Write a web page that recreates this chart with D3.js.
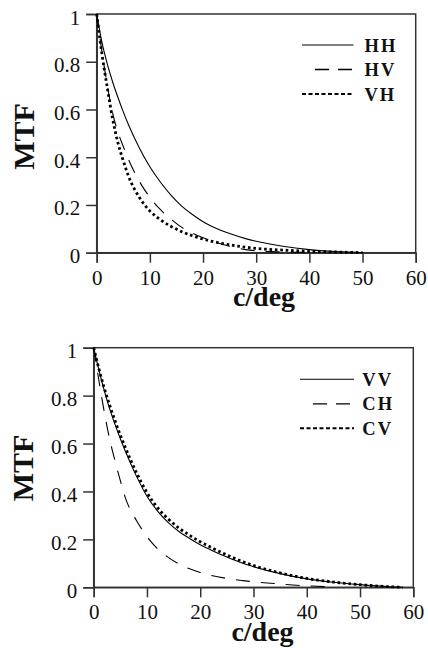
<!DOCTYPE html>
<html>
<head>
<meta charset="utf-8">
<script src="https://cdn.jsdelivr.net/npm/d3@7"></script>
<style>
  body { margin: 0; background: #fff; }
  svg { display: block; }
  text { font-family: "Liberation Serif", "Times New Roman", serif; fill: #111; }
</style>
</head>
<body>
<svg id="chart" width="428" height="648"></svg>
<script>
// spatial frequency (c/deg)
var cpdTop = [0, 1, 2, 3, 4, 5, 6, 8, 10, 12, 14, 16, 18, 20, 22, 25, 28, 30, 35, 40, 45, 50];
var hh = [1, 0.88, 0.79, 0.715, 0.65, 0.59, 0.535, 0.44, 0.36, 0.295, 0.24, 0.195, 0.16, 0.13, 0.107, 0.08, 0.059, 0.048, 0.027, 0.013, 0.005, 0];
var hv = [1, 0.84, 0.70, 0.585, 0.505, 0.445, 0.39, 0.30, 0.232, 0.18, 0.14, 0.106, 0.082, 0.063, 0.047, 0.027, 0.013, 0.008, 0.003, 0.001, null, null];
var vh = [1, 0.83, 0.69, 0.56, 0.46, 0.385, 0.32, 0.232, 0.175, 0.138, 0.11, 0.088, 0.071, 0.057, 0.046, 0.033, 0.023, 0.018, 0.011, 0.006, 0.003, 0];

var cpdBottom = [0, 1, 2, 3, 4, 5, 6, 8, 10, 12, 14, 16, 18, 20, 22, 25, 28, 30, 35, 40, 45, 50, 55, 58];
var vv = [1, 0.905, 0.82, 0.745, 0.68, 0.62, 0.565, 0.465, 0.38, 0.318, 0.27, 0.233, 0.204, 0.178, 0.156, 0.126, 0.1, 0.086, 0.057, 0.035, 0.021, 0.011, 0.003, 0];
var ch = [1, 0.86, 0.73, 0.618, 0.528, 0.445, 0.37, 0.28, 0.212, 0.16, 0.125, 0.097, 0.077, 0.062, 0.05, 0.037, 0.028, 0.023, 0.014, 0.006, 0.002, null, null, null];
var cv = [1, 0.91, 0.83, 0.76, 0.695, 0.635, 0.58, 0.48, 0.395, 0.332, 0.285, 0.247, 0.217, 0.19, 0.167, 0.135, 0.107, 0.091, 0.06, 0.037, 0.022, 0.011, 0.003, 0];

var xTicks = [0, 10, 20, 30, 40, 50, 60];
var yTicks = [0, 0.2, 0.4, 0.6, 0.8, 1];

var svg = d3.select('#chart');
var axisColor = '#333';

var styles = {
  solid: { width: 1.1, dash: null, legendDash: null, legendWidth: 1.1 },
  dashed: { width: 1.1, dash: '14,11', legendDash: '14,9', legendWidth: 1.3 },
  dotted: { width: 2.8, dash: '2.6,2.8', legendDash: '4,2.5', legendWidth: 2 }
};

function panel(opts) {
  var x = d3.scaleLinear().domain([0, 60]).range([opts.left, opts.right]);
  var y = d3.scaleLinear().domain([0, 1]).range([opts.bottom, opts.top]);
  var g = svg.append('g');

  // frame
  g.append('rect')
    .attr('x', opts.left).attr('y', opts.top)
    .attr('width', opts.right - opts.left).attr('height', opts.bottom - opts.top)
    .attr('fill', 'none').attr('stroke', axisColor).attr('stroke-width', 1.5);

  var xAxis = g.append('g')
    .attr('transform', 'translate(0,' + opts.bottom + ')')
    .call(d3.axisBottom(x).tickValues(xTicks).tickSize(10).tickPadding(10).tickFormat(d3.format('d')));
  var yAxis = g.append('g')
    .attr('transform', 'translate(' + opts.left + ',0)')
    .call(d3.axisLeft(y).tickValues(yTicks).tickSize(10.5).tickPadding(6).tickFormat(function(d) { return d; }));

  [xAxis, yAxis].forEach(function(a) {
    a.select('.domain').attr('stroke', axisColor).attr('stroke-width', 1.5);
    a.selectAll('.tick line').attr('stroke', axisColor).attr('stroke-width', 1.5);
    a.selectAll('.tick text')
      .attr('font-size', 21).attr('fill', '#111');
  });
  xAxis.selectAll('.tick text').attr('dy', null).attr('y', 32);
  yAxis.selectAll('.tick text').attr('dy', null).attr('y', 10);

  // curves
  opts.series.forEach(function(s) {
    var st = styles[s.style];
    var pts = opts.cpd.map(function(c, i) { return [c, s.values[i]]; });
    var line = d3.line()
      .defined(function(d) { return d[1] != null; })
      .x(function(d) { return x(d[0]); })
      .y(function(d) { return y(d[1]); })
      .curve(d3.curveMonotoneX);
    g.append('path')
      .attr('d', line(pts))
      .attr('fill', 'none')
      .attr('stroke', '#000')
      .attr('stroke-width', st.width)
      .attr('stroke-dasharray', st.dash);
  });

  // legend
  opts.series.forEach(function(s, i) {
    var st = styles[s.style];
    var ly = opts.legendY + i * 24.5;
    var x0 = s.style === 'dashed' ? opts.legendX0 + 13 : opts.legendX0;
    g.append('line')
      .attr('x1', x0).attr('x2', opts.legendX1)
      .attr('y1', ly).attr('y2', ly)
      .attr('stroke', '#000')
      .attr('stroke-width', st.legendWidth)
      .attr('stroke-dasharray', st.legendDash);
    g.append('text')
      .attr('x', opts.legendText).attr('y', ly + 6.5)
      .attr('font-size', 18.5).attr('font-weight', 'bold')
      .attr('letter-spacing', 2)
      .text(s.name);
  });

  // axis titles
  g.append('text')
    .attr('transform', 'translate(' + opts.mtfX + ',' + opts.mtfY + ') rotate(-90)')
    .attr('text-anchor', 'middle')
    .attr('font-size', 30).attr('font-weight', 'bold')
    .text('MTF');
  g.append('text')
    .attr('x', opts.titleX).attr('y', opts.bottom + 53.5)
    .attr('text-anchor', 'middle')
    .attr('font-size', 28).attr('font-weight', 'bold')
    .text('c/deg');
}

panel({
  left: 96.7, right: 415.7, top: 14, bottom: 252.7,
  cpd: cpdTop,
  series: [
    { name: 'HH', values: hh, style: 'solid' },
    { name: 'HV', values: hv, style: 'dashed' },
    { name: 'VH', values: vh, style: 'dotted' }
  ],
  legendX0: 302, legendX1: 353.5, legendText: 364.5, legendY: 45,
  mtfX: 33.5, mtfY: 136.5, titleX: 264
});

panel({
  left: 93.7, right: 413.3, top: 347.7, bottom: 587.3,
  cpd: cpdBottom,
  series: [
    { name: 'VV', values: vv, style: 'solid' },
    { name: 'CH', values: ch, style: 'dashed' },
    { name: 'CV', values: cv, style: 'dotted' }
  ],
  legendX0: 300, legendX1: 354, legendText: 362.3, legendY: 379.3,
  mtfX: 32.5, mtfY: 468, titleX: 262.5
});
</script>
</body>
</html>
